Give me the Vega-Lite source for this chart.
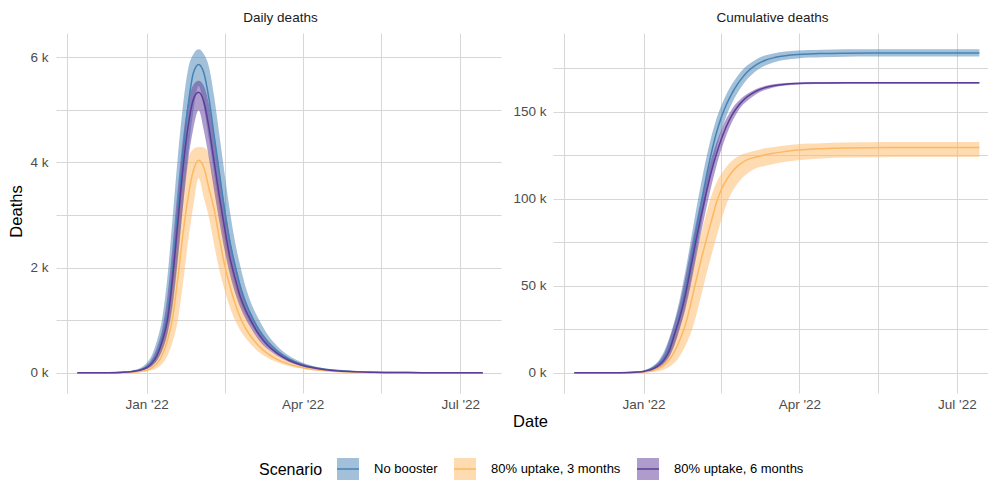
{
  "$schema": "https://vega.github.io/schema/vega-lite/v6.json",
  "background": "white",
  "padding": {"left": 8, "top": 10, "right": 0, "bottom": 0},
  "bounds": "flush",
  "spacing": 56,
  "config": {
    "font": "Liberation Sans",
    "view": {"stroke": null},
    "axis": {
      "domain": false,
      "grid": true,
      "gridColor": "#D6D6D6",
      "gridWidth": 1,
      "ticks": true,
      "tickColor": "#D6D6D6",
      "tickSize": 4,
      "labelFont": "Liberation Sans",
      "labelColor": "#4D4D4D",
      "labelFontSize": 13.5,
      "labelOverlap": false,
      "labelFlush": false,
      "titleFont": "Liberation Sans",
      "titleFontSize": 16.5,
      "titleFontWeight": "normal",
      "titleColor": "#000000"
    },
    "title": {
      "font": "Liberation Sans",
      "fontSize": 13.5,
      "fontWeight": "normal",
      "color": "#1A1A1A",
      "anchor": "middle",
      "baseline": "alphabetic",
      "offset": 9
    }
  },
  "data": {
    "values": [
      {"date": "2021-11-22", "s": "No booster", "d": 0, "dl": 0, "dh": 0, "c": 0, "cl": 0, "ch": 0},
      {"date": "2021-11-22", "s": "80% uptake, 3 months", "d": 0, "dl": 0, "dh": 0, "c": 0, "cl": 0, "ch": 0},
      {"date": "2021-11-22", "s": "80% uptake, 6 months", "d": 0, "dl": 0, "dh": 0, "c": 0, "cl": 0, "ch": 0},
      {"date": "2021-12-01", "s": "No booster", "d": 0, "dl": 0, "dh": 0, "c": 0, "cl": 0, "ch": 0},
      {"date": "2021-12-01", "s": "80% uptake, 3 months", "d": 0, "dl": 0, "dh": 0, "c": 0, "cl": 0, "ch": 0},
      {"date": "2021-12-01", "s": "80% uptake, 6 months", "d": 0, "dl": 0, "dh": 0, "c": 0, "cl": 0, "ch": 0},
      {"date": "2021-12-10", "s": "No booster", "d": 2, "dl": 1, "dh": 4, "c": 10, "cl": 0, "ch": 40},
      {"date": "2021-12-10", "s": "80% uptake, 3 months", "d": 1, "dl": 0, "dh": 3, "c": 5, "cl": 0, "ch": 10},
      {"date": "2021-12-10", "s": "80% uptake, 6 months", "d": 2, "dl": 1, "dh": 3, "c": 10, "cl": 0, "ch": 40},
      {"date": "2021-12-17", "s": "No booster", "d": 9, "dl": 6, "dh": 16, "c": 50, "cl": 20, "ch": 150},
      {"date": "2021-12-17", "s": "80% uptake, 3 months", "d": 4, "dl": 1, "dh": 8, "c": 20, "cl": 10, "ch": 50},
      {"date": "2021-12-17", "s": "80% uptake, 6 months", "d": 8, "dl": 5, "dh": 12, "c": 50, "cl": 20, "ch": 140},
      {"date": "2021-12-24", "s": "No booster", "d": 28, "dl": 21, "dh": 47, "c": 200, "cl": 100, "ch": 400},
      {"date": "2021-12-24", "s": "80% uptake, 3 months", "d": 12, "dl": 4, "dh": 22, "c": 80, "cl": 30, "ch": 160},
      {"date": "2021-12-24", "s": "80% uptake, 6 months", "d": 25, "dl": 17, "dh": 36, "c": 180, "cl": 80, "ch": 350},
      {"date": "2021-12-29", "s": "No booster", "d": 66, "dl": 46, "dh": 104, "c": 500, "cl": 300, "ch": 700},
      {"date": "2021-12-29", "s": "80% uptake, 3 months", "d": 30, "dl": 11, "dh": 53, "c": 200, "cl": 90, "ch": 480},
      {"date": "2021-12-29", "s": "80% uptake, 6 months", "d": 60, "dl": 40, "dh": 80, "c": 450, "cl": 270, "ch": 650},
      {"date": "2022-01-01", "s": "No booster", "d": 110, "dl": 72, "dh": 186, "c": 800, "cl": 600, "ch": 1370},
      {"date": "2022-01-01", "s": "80% uptake, 3 months", "d": 50, "dl": 28, "dh": 100, "c": 400, "cl": 150, "ch": 940},
      {"date": "2022-01-01", "s": "80% uptake, 6 months", "d": 100, "dl": 75, "dh": 146, "c": 750, "cl": 550, "ch": 1190},
      {"date": "2022-01-04", "s": "No booster", "d": 200, "dl": 124, "dh": 336, "c": 1600, "cl": 1060, "ch": 2500},
      {"date": "2022-01-04", "s": "80% uptake, 3 months", "d": 95, "dl": 48, "dh": 190, "c": 800, "cl": 290, "ch": 1740},
      {"date": "2022-01-04", "s": "80% uptake, 6 months", "d": 180, "dl": 132, "dh": 265, "c": 1400, "cl": 960, "ch": 2200},
      {"date": "2022-01-07", "s": "No booster", "d": 360, "dl": 225, "dh": 615, "c": 2900, "cl": 2000, "ch": 4350},
      {"date": "2022-01-07", "s": "80% uptake, 3 months", "d": 180, "dl": 90, "dh": 360, "c": 1500, "cl": 570, "ch": 3100},
      {"date": "2022-01-07", "s": "80% uptake, 6 months", "d": 330, "dl": 240, "dh": 484, "c": 2600, "cl": 1800, "ch": 3900},
      {"date": "2022-01-10", "s": "No booster", "d": 660, "dl": 408, "dh": 1039, "c": 5000, "cl": 3560, "ch": 7400},
      {"date": "2022-01-10", "s": "80% uptake, 3 months", "d": 340, "dl": 171, "dh": 657, "c": 2700, "cl": 1100, "ch": 5300},
      {"date": "2022-01-10", "s": "80% uptake, 6 months", "d": 600, "dl": 437, "dh": 832, "c": 4500, "cl": 3200, "ch": 6600},
      {"date": "2022-01-13", "s": "No booster", "d": 1100, "dl": 723, "dh": 1825, "c": 8500, "cl": 6100, "ch": 12700},
      {"date": "2022-01-13", "s": "80% uptake, 3 months", "d": 620, "dl": 323, "dh": 1113, "c": 4600, "cl": 2000, "ch": 8800},
      {"date": "2022-01-13", "s": "80% uptake, 6 months", "d": 1000, "dl": 752, "dh": 1456, "c": 7600, "cl": 5500, "ch": 11200},
      {"date": "2022-01-16", "s": "No booster", "d": 1950, "dl": 1231, "dh": 2949, "c": 14500, "cl": 10400, "ch": 20400},
      {"date": "2022-01-16", "s": "80% uptake, 3 months", "d": 1050, "dl": 589, "dh": 1908, "c": 7800, "cl": 3500, "ch": 13900},
      {"date": "2022-01-16", "s": "80% uptake, 6 months", "d": 1800, "dl": 1316, "dh": 2418, "c": 13000, "cl": 9400, "ch": 19400},
      {"date": "2022-01-19", "s": "No booster", "d": 3100, "dl": 2104, "dh": 4105, "c": 23000, "cl": 17100, "ch": 30400},
      {"date": "2022-01-19", "s": "80% uptake, 3 months", "d": 1800, "dl": 998, "dh": 2809, "c": 12500, "cl": 5900, "ch": 20800},
      {"date": "2022-01-19", "s": "80% uptake, 6 months", "d": 2850, "dl": 2186, "dh": 3510, "c": 22500, "cl": 16100, "ch": 29000},
      {"date": "2022-01-22", "s": "No booster", "d": 4200, "dl": 3185, "dh": 5089, "c": 33500, "cl": 26200, "ch": 42700},
      {"date": "2022-01-22", "s": "80% uptake, 3 months", "d": 2650, "dl": 1710, "dh": 3551, "c": 19000, "cl": 9700, "ch": 29600},
      {"date": "2022-01-22", "s": "80% uptake, 6 months", "d": 3900, "dl": 3173, "dh": 4472, "c": 32000, "cl": 25600, "ch": 40100},
      {"date": "2022-01-25", "s": "No booster", "d": 5100, "dl": 4187, "dh": 5784, "c": 46500, "cl": 37400, "ch": 57600},
      {"date": "2022-01-25", "s": "80% uptake, 3 months", "d": 3350, "dl": 2518, "dh": 4081, "c": 27000, "cl": 15100, "ch": 41600},
      {"date": "2022-01-25", "s": "80% uptake, 6 months", "d": 4700, "dl": 4042, "dh": 5148, "c": 44000, "cl": 36000, "ch": 54200},
      {"date": "2022-01-28", "s": "No booster", "d": 5700, "dl": 4976, "dh": 6056, "c": 62000, "cl": 51000, "ch": 74300},
      {"date": "2022-01-28", "s": "80% uptake, 3 months", "d": 3850, "dl": 3183, "dh": 4250, "c": 38500, "cl": 22000, "ch": 54900},
      {"date": "2022-01-28", "s": "80% uptake, 6 months", "d": 5200, "dl": 4653, "dh": 5476, "c": 59000, "cl": 49000, "ch": 69600},
      {"date": "2022-01-31", "s": "No booster", "d": 5860, "dl": 5450, "dh": 6150, "c": 79000, "cl": 66900, "ch": 91500},
      {"date": "2022-01-31", "s": "80% uptake, 3 months", "d": 4040, "dl": 3700, "dh": 4290, "c": 51500, "cl": 31400, "ch": 67500},
      {"date": "2022-01-31", "s": "80% uptake, 6 months", "d": 5330, "dl": 4990, "dh": 5550, "c": 74500, "cl": 64200, "ch": 84500},
      {"date": "2022-02-03", "s": "No booster", "d": 5700, "dl": 5051, "dh": 6056, "c": 96000, "cl": 83700, "ch": 107600},
      {"date": "2022-02-03", "s": "80% uptake, 3 months", "d": 3900, "dl": 3325, "dh": 4282, "c": 64000, "cl": 43100, "ch": 79200},
      {"date": "2022-02-03", "s": "80% uptake, 6 months", "d": 5150, "dl": 4606, "dh": 5450, "c": 89000, "cl": 79300, "ch": 98300},
      {"date": "2022-02-06", "s": "No booster", "d": 5200, "dl": 4428, "dh": 5808, "c": 111500, "cl": 100000, "ch": 122300},
      {"date": "2022-02-06", "s": "80% uptake, 3 months", "d": 3500, "dl": 2945, "dh": 4134, "c": 75500, "cl": 55300, "ch": 90500},
      {"date": "2022-02-06", "s": "80% uptake, 6 months", "d": 4650, "dl": 4066, "dh": 5096, "c": 102500, "cl": 93500, "ch": 111200},
      {"date": "2022-02-09", "s": "No booster", "d": 4500, "dl": 3763, "dh": 5241, "c": 125500, "cl": 114800, "ch": 135100},
      {"date": "2022-02-09", "s": "80% uptake, 3 months", "d": 3100, "dl": 2423, "dh": 3710, "c": 86500, "cl": 66800, "ch": 101200},
      {"date": "2022-02-09", "s": "80% uptake, 6 months", "d": 4000, "dl": 3455, "dh": 4498, "c": 115000, "cl": 106600, "ch": 122400},
      {"date": "2022-02-12", "s": "No booster", "d": 3800, "dl": 3098, "dh": 4513, "c": 137500, "cl": 128100, "ch": 145600},
      {"date": "2022-02-12", "s": "80% uptake, 3 months", "d": 2550, "dl": 1948, "dh": 3286, "c": 97500, "cl": 77600, "ch": 109000},
      {"date": "2022-02-12", "s": "80% uptake, 6 months", "d": 3350, "dl": 2867, "dh": 3822, "c": 125500, "cl": 118500, "ch": 131900},
      {"date": "2022-02-15", "s": "No booster", "d": 3100, "dl": 2506, "dh": 3785, "c": 147000, "cl": 139100, "ch": 153800},
      {"date": "2022-02-15", "s": "80% uptake, 3 months", "d": 2050, "dl": 1568, "dh": 2703, "c": 105500, "cl": 88100, "ch": 114400},
      {"date": "2022-02-15", "s": "80% uptake, 6 months", "d": 2750, "dl": 2327, "dh": 3172, "c": 134500, "cl": 128500, "ch": 139900},
      {"date": "2022-02-18", "s": "No booster", "d": 2500, "dl": 2046, "dh": 3080, "c": 154500, "cl": 147900, "ch": 160400},
      {"date": "2022-02-18", "s": "80% uptake, 3 months", "d": 1650, "dl": 1254, "dh": 2173, "c": 111000, "cl": 97200, "ch": 118600},
      {"date": "2022-02-18", "s": "80% uptake, 6 months", "d": 2200, "dl": 1880, "dh": 2574, "c": 142000, "cl": 137000, "ch": 146400},
      {"date": "2022-02-21", "s": "No booster", "d": 2050, "dl": 1655, "dh": 2492, "c": 160500, "cl": 154800, "ch": 165800},
      {"date": "2022-02-21", "s": "80% uptake, 3 months", "d": 1320, "dl": 998, "dh": 1749, "c": 115300, "cl": 103700, "ch": 121700},
      {"date": "2022-02-21", "s": "80% uptake, 6 months", "d": 1800, "dl": 1528, "dh": 2080, "c": 148000, "cl": 144000, "ch": 151500},
      {"date": "2022-02-24", "s": "No booster", "d": 1650, "dl": 1348, "dh": 2036, "c": 165500, "cl": 160400, "ch": 170200},
      {"date": "2022-02-24", "s": "80% uptake, 3 months", "d": 1050, "dl": 808, "dh": 1399, "c": 118500, "cl": 108400, "ch": 124000},
      {"date": "2022-02-24", "s": "80% uptake, 6 months", "d": 1450, "dl": 1246, "dh": 1690, "c": 152500, "cl": 149500, "ch": 155300},
      {"date": "2022-02-27", "s": "No booster", "d": 1350, "dl": 1114, "dh": 1644, "c": 169500, "cl": 165000, "ch": 173900},
      {"date": "2022-02-27", "s": "80% uptake, 3 months", "d": 850, "dl": 665, "dh": 1113, "c": 120800, "cl": 112000, "ch": 125600},
      {"date": "2022-02-27", "s": "80% uptake, 6 months", "d": 1200, "dl": 1034, "dh": 1378, "c": 156000, "cl": 153700, "ch": 158300},
      {"date": "2022-03-02", "s": "No booster", "d": 1120, "dl": 928, "dh": 1349, "c": 173000, "cl": 168800, "ch": 176700},
      {"date": "2022-03-02", "s": "80% uptake, 3 months", "d": 700, "dl": 546, "dh": 900, "c": 122500, "cl": 114600, "ch": 126500},
      {"date": "2022-03-02", "s": "80% uptake, 6 months", "d": 1000, "dl": 860, "dh": 1144, "c": 158700, "cl": 156400, "ch": 160400},
      {"date": "2022-03-07", "s": "No booster", "d": 810, "dl": 673, "dh": 998, "c": 177000, "cl": 173500, "ch": 180100},
      {"date": "2022-03-07", "s": "80% uptake, 3 months", "d": 500, "dl": 390, "dh": 647, "c": 124000, "cl": 117500, "ch": 127800},
      {"date": "2022-03-07", "s": "80% uptake, 6 months", "d": 720, "dl": 611, "dh": 832, "c": 161800, "cl": 160100, "ch": 163100},
      {"date": "2022-03-12", "s": "No booster", "d": 590, "dl": 490, "dh": 718, "c": 179500, "cl": 176500, "ch": 182300},
      {"date": "2022-03-12", "s": "80% uptake, 3 months", "d": 360, "dl": 280, "dh": 461, "c": 125200, "cl": 118900, "ch": 129000},
      {"date": "2022-03-12", "s": "80% uptake, 6 months", "d": 520, "dl": 447, "dh": 598, "c": 163800, "cl": 162500, "ch": 164800},
      {"date": "2022-03-17", "s": "No booster", "d": 430, "dl": 358, "dh": 520, "c": 181000, "cl": 178400, "ch": 183500},
      {"date": "2022-03-17", "s": "80% uptake, 3 months", "d": 260, "dl": 204, "dh": 334, "c": 126200, "cl": 120000, "ch": 129700},
      {"date": "2022-03-17", "s": "80% uptake, 6 months", "d": 380, "dl": 329, "dh": 432, "c": 165000, "cl": 164000, "ch": 165800},
      {"date": "2022-03-24", "s": "No booster", "d": 270, "dl": 225, "dh": 328, "c": 182200, "cl": 179900, "ch": 184600},
      {"date": "2022-03-24", "s": "80% uptake, 3 months", "d": 165, "dl": 128, "dh": 212, "c": 127200, "cl": 121300, "ch": 130700},
      {"date": "2022-03-24", "s": "80% uptake, 6 months", "d": 240, "dl": 207, "dh": 276, "c": 165900, "cl": 165100, "ch": 166500},
      {"date": "2022-03-31", "s": "No booster", "d": 170, "dl": 141, "dh": 208, "c": 182900, "cl": 180700, "ch": 185200},
      {"date": "2022-03-31", "s": "80% uptake, 3 months", "d": 105, "dl": 81, "dh": 138, "c": 128000, "cl": 122100, "ch": 131400},
      {"date": "2022-03-31", "s": "80% uptake, 6 months", "d": 150, "dl": 130, "dh": 172, "c": 166300, "cl": 165700, "ch": 166900},
      {"date": "2022-04-07", "s": "No booster", "d": 105, "dl": 88, "dh": 130, "c": 183300, "cl": 181200, "ch": 185500},
      {"date": "2022-04-07", "s": "80% uptake, 3 months", "d": 65, "dl": 50, "dh": 87, "c": 128500, "cl": 122800, "ch": 131800},
      {"date": "2022-04-07", "s": "80% uptake, 6 months", "d": 95, "dl": 83, "dh": 109, "c": 166500, "cl": 165900, "ch": 167000},
      {"date": "2022-04-14", "s": "No booster", "d": 68, "dl": 59, "dh": 83, "c": 183500, "cl": 181400, "ch": 185700},
      {"date": "2022-04-14", "s": "80% uptake, 3 months", "d": 42, "dl": 33, "dh": 53, "c": 128800, "cl": 123200, "ch": 132000},
      {"date": "2022-04-14", "s": "80% uptake, 6 months", "d": 60, "dl": 53, "dh": 69, "c": 166600, "cl": 166000, "ch": 167100},
      {"date": "2022-04-28", "s": "No booster", "d": 28, "dl": 25, "dh": 33, "c": 183700, "cl": 181700, "ch": 185900},
      {"date": "2022-04-28", "s": "80% uptake, 3 months", "d": 17, "dl": 13, "dh": 22, "c": 129200, "cl": 123700, "ch": 132400},
      {"date": "2022-04-28", "s": "80% uptake, 6 months", "d": 25, "dl": 22, "dh": 28, "c": 166700, "cl": 166200, "ch": 167200},
      {"date": "2022-05-12", "s": "No booster", "d": 13, "dl": 12, "dh": 15, "c": 183800, "cl": 181800, "ch": 186000},
      {"date": "2022-05-12", "s": "80% uptake, 3 months", "d": 8, "dl": 6, "dh": 10, "c": 129400, "cl": 123900, "ch": 132500},
      {"date": "2022-05-12", "s": "80% uptake, 6 months", "d": 12, "dl": 11, "dh": 13, "c": 166700, "cl": 166200, "ch": 167200},
      {"date": "2022-05-26", "s": "No booster", "d": 7, "dl": 6, "dh": 8, "c": 183800, "cl": 181800, "ch": 186000},
      {"date": "2022-05-26", "s": "80% uptake, 3 months", "d": 4, "dl": 3, "dh": 5, "c": 129500, "cl": 124100, "ch": 132600},
      {"date": "2022-05-26", "s": "80% uptake, 6 months", "d": 6, "dl": 5, "dh": 7, "c": 166700, "cl": 166200, "ch": 167200},
      {"date": "2022-06-09", "s": "No booster", "d": 3, "dl": 3, "dh": 4, "c": 183800, "cl": 181800, "ch": 186000},
      {"date": "2022-06-09", "s": "80% uptake, 3 months", "d": 2, "dl": 1, "dh": 3, "c": 129500, "cl": 124100, "ch": 132600},
      {"date": "2022-06-09", "s": "80% uptake, 6 months", "d": 3, "dl": 2, "dh": 3, "c": 166700, "cl": 166200, "ch": 167200},
      {"date": "2022-06-23", "s": "No booster", "d": 2, "dl": 2, "dh": 2, "c": 183800, "cl": 181800, "ch": 186000},
      {"date": "2022-06-23", "s": "80% uptake, 3 months", "d": 1, "dl": 1, "dh": 2, "c": 129500, "cl": 124100, "ch": 132600},
      {"date": "2022-06-23", "s": "80% uptake, 6 months", "d": 2, "dl": 1, "dh": 2, "c": 166700, "cl": 166200, "ch": 167200},
      {"date": "2022-07-14", "s": "No booster", "d": 1, "dl": 1, "dh": 1, "c": 183800, "cl": 181800, "ch": 186000},
      {"date": "2022-07-14", "s": "80% uptake, 3 months", "d": 1, "dl": 0, "dh": 1, "c": 129500, "cl": 124100, "ch": 132600},
      {"date": "2022-07-14", "s": "80% uptake, 6 months", "d": 1, "dl": 1, "dh": 1, "c": 166700, "cl": 166200, "ch": 167200}
    ]
  },
  "resolve": {"scale": {"y": "independent", "x": "independent"}},
  "hconcat": [
    {
      "width": 441,
      "height": 356,
      "title": {"text": "Daily deaths"},
      "encoding": {
        "x": {
          "field": "date",
          "type": "temporal",
          "scale": {
            "type": "utc",
            "domain": [
              {"year": 2021, "month": 11, "date": 12, "utc": true},
              {"year": 2022, "month": 7, "date": 24, "hours": 12, "utc": true}
            ]
          },
          "axis": {
            "values": [
              {"year": 2021, "month": 11, "date": 16, "utc": true},
              {"year": 2022, "month": 1, "date": 1, "utc": true},
              {"year": 2022, "month": 2, "date": 15, "utc": true},
              {"year": 2022, "month": 4, "date": 1, "utc": true},
              {"year": 2022, "month": 5, "date": 16, "hours": 12, "utc": true},
              {"year": 2022, "month": 7, "date": 1, "utc": true}
            ],
            "labelExpr": "utcdate(datum.value) === 1 ? utcFormat(datum.value, \"%b '%y\") : ''",
            "labelPadding": 4,
            "title": "Date",
            "titleX": 470,
            "titleY": 37,
            "titleAlign": "center",
            "titleBaseline": "alphabetic",
            "titleAnchor": null
          }
        }
      },
      "layer": [
        {
          "mark": {"type": "area", "fillOpacity": 0.5, "interpolate": "monotone"},
          "encoding": {
            "y": {
              "field": "dl",
              "type": "quantitative",
              "scale": {"domain": [-307, 6457], "nice": false, "zero": false},
              "axis": {
                "values": [0, 1000, 2000, 3000, 4000, 5000, 6000],
                "labelExpr": "datum.value % 2000 === 0 ? format(datum.value / 1000, 'd') + ' k' : ''",
                "labelPadding": 8,
                "title": "Deaths",
                "titlePadding": 5
              }
            },
            "y2": {"field": "dh"},
            "color": {
              "field": "s",
              "type": "nominal",
              "scale": {
                "domain": ["No booster", "80% uptake, 3 months", "80% uptake, 6 months"],
                "range": ["#4682B4", "#FDB863", "#5E3C99"]
              },
              "legend": {
                "title": "Scenario",
                "orient": "none",
                "legendX": 199,
                "legendY": 424,
                "direction": "horizontal",
                "titleOrient": "left",
                "titleAnchor": "middle",
                "titleBaseline": "middle",
                "titleFont": "Liberation Sans",
                "titleFontSize": 16,
                "titleFontWeight": "normal",
                "titleColor": "#000000",
                "titlePadding": 13,
                "labelFont": "Liberation Sans",
                "labelFontSize": 13,
                "labelColor": "#000000",
                "labelOffset": 14,
                "columnPadding": 13,
                "symbolType": "M-1,0H1V1H-1V-1H1V0",
                "symbolSize": 484,
                "symbolStrokeWidth": 1.5,
                "symbolDash": [22, 200],
                "encode": {
                  "symbols": {
                    "update": {
                      "fill": {"scale": "color", "field": "value"},
                      "fillOpacity": {"value": 0.5},
                      "stroke": {"scale": "color", "field": "value"},
                      "strokeOpacity": {"value": 1},
                      "opacity": {"value": 1}
                    }
                  }
                }
              }
            }
          }
        },
        {
          "mark": {"type": "line", "strokeWidth": 1.5, "interpolate": "monotone"},
          "encoding": {
            "y": {"field": "d", "type": "quantitative"},
            "color": {"field": "s", "type": "nominal", "legend": null}
          }
        }
      ]
    },
    {
      "width": 431,
      "height": 356,
      "title": {"text": "Cumulative deaths"},
      "encoding": {
        "x": {
          "field": "date",
          "type": "temporal",
          "scale": {
            "type": "utc",
            "domain": [
              {"year": 2021, "month": 11, "date": 12, "utc": true},
              {"year": 2022, "month": 7, "date": 19, "utc": true}
            ]
          },
          "axis": {
            "values": [
              {"year": 2021, "month": 11, "date": 16, "utc": true},
              {"year": 2022, "month": 1, "date": 1, "utc": true},
              {"year": 2022, "month": 2, "date": 15, "utc": true},
              {"year": 2022, "month": 4, "date": 1, "utc": true},
              {"year": 2022, "month": 5, "date": 16, "hours": 12, "utc": true},
              {"year": 2022, "month": 7, "date": 1, "utc": true}
            ],
            "labelExpr": "utcdate(datum.value) === 1 ? utcFormat(datum.value, \"%b '%y\") : ''",
            "labelPadding": 4,
            "title": null
          }
        }
      },
      "layer": [
        {
          "mark": {"type": "area", "fillOpacity": 0.5, "interpolate": "monotone"},
          "encoding": {
            "y": {
              "field": "cl",
              "type": "quantitative",
              "scale": {"domain": [-9300, 195300], "nice": false, "zero": false},
              "axis": {
                "values": [0, 25000, 50000, 75000, 100000, 125000, 150000, 175000],
                "labelExpr": "datum.value % 50000 === 0 ? format(datum.value / 1000, 'd') + ' k' : ''",
                "labelPadding": 7,
                "title": null
              }
            },
            "y2": {"field": "ch"},
            "color": {"field": "s", "type": "nominal", "legend": null}
          }
        },
        {
          "mark": {"type": "line", "strokeWidth": 1.5, "interpolate": "monotone"},
          "encoding": {
            "y": {"field": "c", "type": "quantitative"},
            "color": {"field": "s", "type": "nominal", "legend": null}
          }
        }
      ]
    }
  ]
}
